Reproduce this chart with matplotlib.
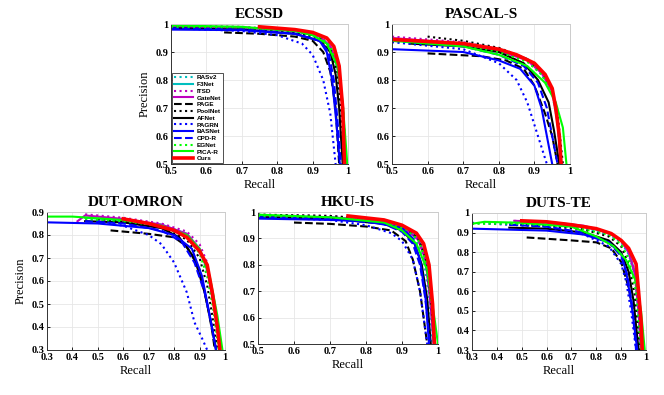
import matplotlib
matplotlib.use("Agg")
import matplotlib.pyplot as plt

methods = ["RASv2", "F3Net", "ITSD", "GateNet", "PAGE", "PoolNet", "AFNet",
           "PAGRN", "BASNet", "CPD-R", "EGNet", "PICA-R", "Ours"]
colors = ["c", "c", "m", "m", "k", "k", "k", "b", "b", "b", "lime", "lime", "r"]
styles = [":", "-", ":", "-", "--", ":", "-", ":", "-", "--", ":", "-", "-"]

# (recall, precision)
ecssd = {
    "RASv2": ([0.5, 0.7, 0.85, 0.92, 0.95, 0.97, 0.98, 0.99], [0.99, 0.985, 0.97, 0.95, 0.91, 0.83, 0.7, 0.5]),
    "F3Net": ([0.5, 0.7, 0.85, 0.92, 0.95, 0.97, 0.985, 0.993], [0.99, 0.987, 0.975, 0.955, 0.92, 0.85, 0.7, 0.5]),
    "ITSD": ([0.5, 0.7, 0.85, 0.92, 0.95, 0.97, 0.985, 0.995], [0.995, 0.99, 0.978, 0.958, 0.925, 0.86, 0.72, 0.5]),
    "GateNet": ([0.5, 0.7, 0.85, 0.92, 0.95, 0.97, 0.985, 0.993], [0.99, 0.988, 0.975, 0.955, 0.92, 0.85, 0.7, 0.5]),
    "PAGE": ([0.65, 0.75, 0.85, 0.9, 0.93, 0.95, 0.965, 0.975], [0.97, 0.965, 0.955, 0.94, 0.9, 0.83, 0.7, 0.5]),
    "PoolNet": ([0.5, 0.7, 0.85, 0.92, 0.95, 0.97, 0.98, 0.99], [0.99, 0.985, 0.97, 0.95, 0.91, 0.83, 0.7, 0.5]),
    "AFNet": ([0.5, 0.7, 0.85, 0.92, 0.95, 0.965, 0.975, 0.985], [0.985, 0.98, 0.965, 0.94, 0.9, 0.82, 0.7, 0.5]),
    "PAGRN": ([0.5, 0.7, 0.8, 0.87, 0.9, 0.93, 0.95, 0.965], [0.985, 0.975, 0.96, 0.93, 0.89, 0.8, 0.68, 0.5]),
    "BASNet": ([0.5, 0.7, 0.85, 0.92, 0.94, 0.955, 0.967, 0.977], [0.98, 0.978, 0.965, 0.94, 0.9, 0.8, 0.65, 0.5]),
    "CPD-R": ([0.5, 0.7, 0.85, 0.92, 0.945, 0.96, 0.97, 0.98], [0.985, 0.98, 0.965, 0.94, 0.9, 0.8, 0.66, 0.5]),
    "EGNet": ([0.5, 0.7, 0.85, 0.92, 0.95, 0.97, 0.985, 0.995], [0.99, 0.988, 0.975, 0.955, 0.92, 0.85, 0.72, 0.5]),
    "PICA-R": ([0.5, 0.7, 0.85, 0.9, 0.94, 0.97, 0.985, 0.998], [0.995, 0.99, 0.975, 0.96, 0.93, 0.85, 0.72, 0.5]),
    "Ours": ([0.75, 0.85, 0.9, 0.94, 0.96, 0.975, 0.985, 0.99], [0.99, 0.98, 0.97, 0.95, 0.92, 0.85, 0.7, 0.5]),
}

pascal = {
    "RASv2": ([0.5, 0.7, 0.8, 0.88, 0.92, 0.95, 0.965, 0.975], [0.94, 0.925, 0.905, 0.87, 0.82, 0.75, 0.65, 0.5]),
    "F3Net": ([0.5, 0.7, 0.8, 0.88, 0.92, 0.95, 0.965, 0.975], [0.945, 0.93, 0.91, 0.875, 0.83, 0.76, 0.66, 0.5]),
    "ITSD": ([0.5, 0.7, 0.8, 0.88, 0.92, 0.95, 0.965, 0.975], [0.955, 0.935, 0.91, 0.875, 0.83, 0.77, 0.66, 0.5]),
    "GateNet": ([0.5, 0.7, 0.8, 0.88, 0.92, 0.95, 0.965, 0.975], [0.95, 0.93, 0.905, 0.87, 0.825, 0.76, 0.65, 0.5]),
    "PAGE": ([0.6, 0.75, 0.82, 0.87, 0.9, 0.93, 0.95, 0.965], [0.895, 0.885, 0.87, 0.84, 0.78, 0.68, 0.6, 0.5]),
    "PoolNet": ([0.6, 0.7, 0.8, 0.88, 0.92, 0.95, 0.965, 0.98], [0.955, 0.94, 0.915, 0.875, 0.83, 0.77, 0.68, 0.5]),
    "AFNet": ([0.55, 0.7, 0.8, 0.87, 0.91, 0.94, 0.955, 0.97], [0.93, 0.92, 0.9, 0.86, 0.8, 0.72, 0.62, 0.5]),
    "PAGRN": ([0.5, 0.7, 0.8, 0.85, 0.88, 0.91, 0.925, 0.935], [0.935, 0.91, 0.86, 0.8, 0.72, 0.6, 0.54, 0.5]),
    "BASNet": ([0.5, 0.7, 0.8, 0.86, 0.9, 0.92, 0.935, 0.95], [0.91, 0.9, 0.87, 0.84, 0.78, 0.7, 0.6, 0.5]),
    "CPD-R": ([0.5, 0.7, 0.8, 0.87, 0.91, 0.935, 0.95, 0.965], [0.94, 0.92, 0.89, 0.85, 0.79, 0.7, 0.6, 0.5]),
    "EGNet": ([0.5, 0.7, 0.8, 0.88, 0.92, 0.95, 0.965, 0.975], [0.945, 0.925, 0.9, 0.865, 0.82, 0.76, 0.66, 0.5]),
    "PICA-R": ([0.5, 0.7, 0.8, 0.88, 0.93, 0.96, 0.98, 0.99], [0.94, 0.92, 0.89, 0.85, 0.79, 0.72, 0.63, 0.5]),
    "Ours": ([0.5, 0.7, 0.8, 0.85, 0.9, 0.93, 0.95, 0.96, 0.97, 0.975], [0.945, 0.93, 0.91, 0.89, 0.86, 0.82, 0.77, 0.7, 0.6, 0.5]),
}

dutomron = {
    "RASv2": ([0.45, 0.6, 0.75, 0.85, 0.9, 0.93, 0.95, 0.97, 0.98], [0.87, 0.86, 0.84, 0.8, 0.73, 0.64, 0.53, 0.4, 0.3]),
    "F3Net": ([0.45, 0.6, 0.75, 0.85, 0.9, 0.93, 0.955, 0.97, 0.98], [0.875, 0.865, 0.845, 0.805, 0.74, 0.65, 0.53, 0.4, 0.3]),
    "ITSD": ([0.45, 0.6, 0.75, 0.85, 0.9, 0.93, 0.95, 0.965, 0.98], [0.89, 0.875, 0.85, 0.815, 0.76, 0.68, 0.55, 0.42, 0.3]),
    "GateNet": ([0.42, 0.45, 0.6, 0.75, 0.85, 0.9, 0.93, 0.95, 0.97, 0.98], [0.86, 0.885, 0.87, 0.845, 0.805, 0.74, 0.65, 0.53, 0.4, 0.3]),
    "PAGE": ([0.55, 0.7, 0.8, 0.85, 0.9, 0.93, 0.95, 0.96], [0.82, 0.805, 0.79, 0.75, 0.65, 0.5, 0.38, 0.3]),
    "PoolNet": ([0.5, 0.6, 0.75, 0.85, 0.9, 0.93, 0.95, 0.97], [0.87, 0.86, 0.835, 0.78, 0.7, 0.58, 0.45, 0.3]),
    "AFNet": ([0.45, 0.6, 0.75, 0.82, 0.88, 0.92, 0.945, 0.965], [0.86, 0.855, 0.83, 0.79, 0.7, 0.55, 0.42, 0.3]),
    "PAGRN": ([0.5, 0.6, 0.7, 0.75, 0.8, 0.85, 0.88, 0.91, 0.93], [0.86, 0.84, 0.8, 0.76, 0.68, 0.55, 0.42, 0.35, 0.3]),
    "BASNet": ([0.3, 0.5, 0.7, 0.8, 0.87, 0.91, 0.94, 0.965], [0.855, 0.85, 0.83, 0.8, 0.74, 0.62, 0.45, 0.3]),
    "CPD-R": ([0.45, 0.6, 0.75, 0.83, 0.88, 0.92, 0.945, 0.965], [0.86, 0.85, 0.82, 0.77, 0.68, 0.55, 0.42, 0.3]),
    "EGNet": ([0.45, 0.6, 0.75, 0.85, 0.9, 0.93, 0.955, 0.975], [0.87, 0.86, 0.84, 0.79, 0.72, 0.62, 0.47, 0.3]),
    "PICA-R": ([0.3, 0.4, 0.6, 0.75, 0.85, 0.9, 0.94, 0.97, 0.99], [0.88, 0.88, 0.865, 0.84, 0.8, 0.74, 0.62, 0.45, 0.3]),
    "Ours": ([0.6, 0.7, 0.8, 0.85, 0.9, 0.93, 0.95, 0.97, 0.98], [0.87, 0.85, 0.82, 0.79, 0.73, 0.67, 0.55, 0.4, 0.3]),
}

hkuis = {
    "RASv2": ([0.5, 0.7, 0.85, 0.91, 0.94, 0.96, 0.975, 0.985], [0.985, 0.98, 0.96, 0.93, 0.89, 0.82, 0.68, 0.5]),
    "F3Net": ([0.5, 0.7, 0.85, 0.91, 0.945, 0.965, 0.978, 0.988], [0.985, 0.98, 0.965, 0.94, 0.9, 0.83, 0.68, 0.5]),
    "ITSD": ([0.5, 0.7, 0.85, 0.91, 0.945, 0.965, 0.978, 0.99], [0.99, 0.985, 0.968, 0.94, 0.9, 0.83, 0.68, 0.5]),
    "GateNet": ([0.52, 0.7, 0.85, 0.91, 0.945, 0.965, 0.978, 0.988], [0.98, 0.98, 0.965, 0.935, 0.895, 0.82, 0.67, 0.5]),
    "PAGE": ([0.6, 0.7, 0.8, 0.87, 0.91, 0.93, 0.95, 0.96, 0.97], [0.96, 0.955, 0.945, 0.93, 0.89, 0.82, 0.7, 0.6, 0.5]),
    "PoolNet": ([0.5, 0.7, 0.85, 0.91, 0.945, 0.965, 0.98, 0.99], [0.99, 0.985, 0.97, 0.94, 0.9, 0.83, 0.68, 0.5]),
    "AFNet": ([0.5, 0.7, 0.85, 0.9, 0.935, 0.955, 0.97, 0.98], [0.98, 0.975, 0.955, 0.93, 0.88, 0.8, 0.67, 0.5]),
    "PAGRN": ([0.5, 0.7, 0.8, 0.87, 0.9, 0.93, 0.95, 0.965, 0.97], [0.98, 0.97, 0.95, 0.92, 0.89, 0.82, 0.7, 0.55, 0.5]),
    "BASNet": ([0.5, 0.7, 0.8, 0.9, 0.93, 0.95, 0.965, 0.975], [0.975, 0.97, 0.965, 0.94, 0.9, 0.82, 0.68, 0.5]),
    "CPD-R": ([0.5, 0.7, 0.85, 0.9, 0.93, 0.95, 0.965, 0.978], [0.98, 0.975, 0.955, 0.925, 0.88, 0.8, 0.67, 0.5]),
    "EGNet": ([0.5, 0.7, 0.85, 0.91, 0.945, 0.965, 0.98, 0.993], [0.985, 0.98, 0.965, 0.935, 0.895, 0.82, 0.68, 0.5]),
    "PICA-R": ([0.5, 0.7, 0.85, 0.9, 0.94, 0.97, 0.99, 1.0], [0.99, 0.98, 0.96, 0.93, 0.88, 0.78, 0.6, 0.5]),
    "Ours": ([0.75, 0.85, 0.9, 0.94, 0.96, 0.975, 0.985, 0.99], [0.985, 0.97, 0.95, 0.92, 0.88, 0.8, 0.65, 0.5]),
}

dutste = {
    "RASv2": ([0.45, 0.6, 0.75, 0.85, 0.9, 0.93, 0.955, 0.97, 0.98], [0.95, 0.94, 0.92, 0.89, 0.85, 0.79, 0.68, 0.5, 0.3]),
    "F3Net": ([0.5, 0.6, 0.75, 0.85, 0.9, 0.93, 0.955, 0.97, 0.98], [0.955, 0.95, 0.93, 0.9, 0.86, 0.8, 0.7, 0.5, 0.3]),
    "ITSD": ([0.47, 0.6, 0.75, 0.85, 0.9, 0.93, 0.955, 0.97, 0.98], [0.96, 0.95, 0.93, 0.9, 0.86, 0.8, 0.7, 0.5, 0.3]),
    "GateNet": ([0.47, 0.6, 0.75, 0.85, 0.9, 0.93, 0.955, 0.97, 0.98], [0.96, 0.955, 0.935, 0.9, 0.86, 0.8, 0.69, 0.5, 0.3]),
    "PAGE": ([0.52, 0.7, 0.8, 0.86, 0.9, 0.93, 0.95, 0.965], [0.875, 0.86, 0.85, 0.82, 0.75, 0.62, 0.48, 0.3]),
    "PoolNet": ([0.45, 0.6, 0.75, 0.85, 0.9, 0.93, 0.955, 0.975], [0.94, 0.935, 0.915, 0.88, 0.83, 0.74, 0.58, 0.3]),
    "AFNet": ([0.45, 0.6, 0.75, 0.85, 0.9, 0.93, 0.95, 0.97], [0.925, 0.92, 0.9, 0.86, 0.8, 0.7, 0.55, 0.3]),
    "PAGRN": ([0.3, 0.6, 0.75, 0.85, 0.9, 0.92, 0.94, 0.96], [0.95, 0.93, 0.89, 0.83, 0.74, 0.65, 0.5, 0.3]),
    "BASNet": ([0.3, 0.6, 0.75, 0.85, 0.9, 0.92, 0.94, 0.955, 0.965], [0.92, 0.91, 0.89, 0.85, 0.79, 0.7, 0.55, 0.4, 0.3]),
    "CPD-R": ([0.45, 0.6, 0.75, 0.85, 0.9, 0.925, 0.945, 0.96], [0.94, 0.93, 0.9, 0.85, 0.78, 0.68, 0.52, 0.3]),
    "EGNet": ([0.3, 0.5, 0.7, 0.85, 0.9, 0.93, 0.96, 0.98], [0.945, 0.945, 0.93, 0.89, 0.84, 0.77, 0.6, 0.3]),
    "PICA-R": ([0.3, 0.35, 0.5, 0.7, 0.8, 0.87, 0.92, 0.96, 0.98, 0.995], [0.945, 0.955, 0.95, 0.93, 0.88, 0.83, 0.76, 0.65, 0.5, 0.3]),
    "Ours": ([0.5, 0.6, 0.7, 0.8, 0.86, 0.9, 0.93, 0.96, 0.97, 0.98, 0.985], [0.96, 0.955, 0.94, 0.92, 0.895, 0.86, 0.82, 0.74, 0.6, 0.45, 0.3]),
}

W, H = 664, 395
fig = plt.figure(figsize=(W / 100, H / 100), dpi=100)
serif = "Liberation Serif"


def box(l, r, t, b):
    return [l / W, 1 - b / H, (r - l) / W, (b - t) / H]


panels = [
    ("ECSSD", ecssd, box(171, 348, 24, 164), 0.5, 0.5, True),
    ("PASCAL-S", pascal, box(392, 570, 24, 164), 0.5, 0.5, False),
    ("DUT-OMRON", dutomron, box(47, 225, 212, 350), 0.3, 0.3, True),
    ("HKU-IS", hkuis, box(258, 438, 212, 344), 0.5, 0.5, False),
    ("DUTS-TE", dutste, box(472, 646, 213, 350), 0.3, 0.3, False),
]

for name, data, pos, x0, y0, ylab in panels:
    ax = fig.add_axes(pos)
    for m, c, ls in zip(methods, colors, styles):
        r, p = data[m]
        lw = 2.6 if m == "Ours" else 1.5
        ax.plot(r, p, color=c, linestyle=ls, linewidth=lw, label=m)
    ymax = 0.9 if name == "DUT-OMRON" else 1.0
    ax.set_xlim(x0, 1)
    ax.set_ylim(y0, ymax)
    xt = [round(x0 + 0.1 * i, 1) for i in range(int(round((1 - x0) / 0.1)) + 1)]
    yt = [round(y0 + 0.1 * i, 1) for i in range(int(round((ymax - y0) / 0.1)) + 1)]
    ax.set_xticks(xt)
    ax.set_yticks(yt)
    ax.set_xticklabels(["1" if v == 1 else "%.1f" % v for v in xt],
                       fontfamily=serif, fontweight="bold", fontsize=7.5)
    ax.set_yticklabels(["1" if v == 1 else "%.1f" % v for v in yt],
                       fontfamily=serif, fontweight="bold", fontsize=7.5)
    ax.tick_params(direction="in", length=2, width=0.6, pad=2)
    ax.grid(True, color="#e6e6e6", linewidth=0.6)
    ax.set_axisbelow(True)
    for s in ["left", "bottom"]:
        ax.spines[s].set_color("#333333")
        ax.spines[s].set_linewidth(0.7)
    for s in ["top", "right"]:
        ax.spines[s].set_color("#cccccc")
        ax.spines[s].set_linewidth(0.7)
    ax.set_title(name, fontfamily=serif, fontweight="bold", fontsize=11, pad=4)
    ax.set_xlabel("Recall", fontfamily=serif, fontsize=9, labelpad=2)
    if ylab:
        ax.set_ylabel("Precision", fontfamily=serif, fontsize=9, labelpad=3)
    if name == "ECSSD":
        leg = ax.legend(loc="lower left", prop={"family": "Liberation Sans", "weight": "bold", "size": 4.6},
                        handlelength=3.0, handletextpad=0.6, labelspacing=0.2,
                        borderpad=0.3, borderaxespad=0.1, fancybox=False,
                        framealpha=1, edgecolor="#333333")
        leg.get_frame().set_linewidth(0.6)

fig.savefig("out.png", dpi=100)
